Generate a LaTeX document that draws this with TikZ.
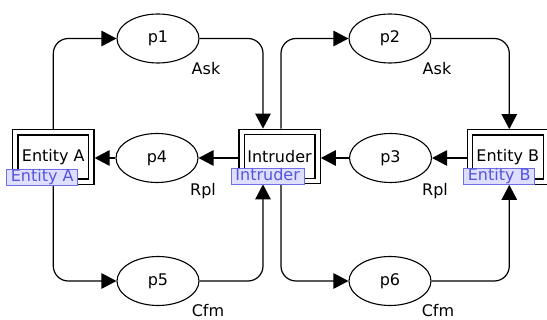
\documentclass[tikz,border=0pt]{standalone}
\usepackage{fontspec}
\setmainfont{DejaVu Sans}
\usetikzlibrary{shapes.geometric,arrows.meta}

\definecolor{tagfill}{RGB}{222,222,255}
\definecolor{tagline}{RGB}{110,110,232}
\definecolor{tagtext}{RGB}{85,85,222}

\tikzset{
  place/.style={draw, ellipse, line width=1.1pt, minimum width=82pt,
    minimum height=49pt, inner sep=0pt},
  trans/.style={draw, rectangle, line width=1.3pt, double, double distance=4pt,
    minimum width=76pt, minimum height=49.2pt, inner sep=0pt, outer sep=3.3pt},
  tag/.style={draw=tagline, fill=tagfill, text=tagtext, line width=0.8pt,
    inner xsep=4pt, inner ysep=0.5pt, text height=11.5pt, text depth=3.5pt},
  arclabel/.style={inner sep=0pt},
  arc/.style={line width=1.2pt, rounded corners=15pt,
    -{Triangle[length=15pt, width=15.5pt]}}
}

\begin{document}
\begin{tikzpicture}[x=1pt, y=-1pt, font=\fontsize{16}{19}\selectfont]
  \useasboundingbox (0,0) rectangle (547,320);

  % transitions
  \node[trans] (ea) at (53.3,157) {Entity A};
  \node[trans] (in) at (279.5,156.5) {Intruder};
  \node[trans] (eb) at (507.8,157) {Entity B};

  % places
  \node[place] (p1) at (158,38.5) {p1};
  \node[place] (p2) at (390,38.5) {p2};
  \node[place] (p4) at (157,158) {p4};
  \node[place] (p3) at (390.5,158) {p3};
  \node[place] (p5) at (158,281) {p5};
  \node[place] (p6) at (390,281) {p6};

  % message names
  \node[arclabel] (ask1) at (206,69) {Ask};
  \node[arclabel] (ask2) at (437,69) {Ask};
  \node[arclabel] (rpl1) at (203,191) {Rpl};
  \node[arclabel] (rpl2) at (435,191) {Rpl};
  \node[arclabel] (cfm1) at (208,311) {Cfm};
  \node[arclabel] (cfm2) at (438,311) {Cfm};

  % top row: Ask
  \draw[arc] (ea.north) |- (p1.west);
  \draw[arc] (p1.east) -| ([xshift=-16.5]in.north);
  \draw[arc] ([xshift=1.5]in.north) |- (p2.west);
  \draw[arc] (p2.east) -| ([xshift=1.5]eb.north);

  % middle row: Rpl
  \draw[arc] (in.west |- p4.east) -- (p4.east);
  \draw[arc] (p4.west) -- (ea.east |- p4.west);
  \draw[arc] (eb.west |- p3.east) -- (p3.east);
  \draw[arc] (p3.west) -- (in.east |- p3.west);

  % bottom row: Cfm
  \draw[arc] (ea.south) |- (p5.west);
  \draw[arc] (p5.east) -| ([xshift=-16.5]in.south);
  \draw[arc] ([xshift=1.5]in.south) |- (p6.west);
  \draw[arc] (p6.east) -| ([xshift=1.5]eb.south);

  % transition name tags
  \node[tag, anchor=north east] (eaTag) at (78,169.5) {Entity A};
  \node[tag, anchor=north east] (inTag) at (304.3,168) {Intruder};
  \node[tag, anchor=north east] (ebTag) at (535,168.5) {Entity B};
\end{tikzpicture}
\end{document}
